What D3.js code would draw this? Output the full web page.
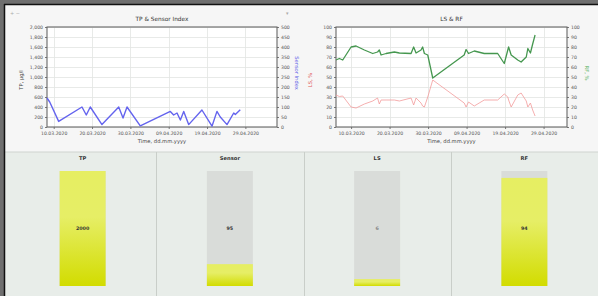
<!DOCTYPE html>
<html>
<head>
<meta charset="utf-8">
<script src="https://cdn.jsdelivr.net/npm/d3@7/dist/d3.min.js"></script>
<style>
  html, body { margin: 0; padding: 0; background: #6f6f6f; }
  svg { display: block; font-family: "DejaVu Sans", sans-serif; }
</style>
</head>
<body>
<svg id="chart" width="598" height="296"></svg>
<script>
// ---- left chart: TP & Sensor Index ----
const tpTicks = [0, 200, 400, 600, 800, 1000, 1200, 1400, 1600, 1800, 2000];
const sensorTicks = [0, 50, 100, 150, 200, 250, 300, 350, 400, 450, 500];
const leftDateTicks = ["2020-03-10", "2020-03-20", "2020-03-30", "2020-04-09", "2020-04-19", "2020-04-29"];
const sensorTimes = [
  "2020-03-08T06:00", "2020-03-08T23:00", "2020-03-11T07:00", "2020-03-17T09:00", "2020-03-18T12:00",
  "2020-03-19T13:00", "2020-03-22T14:00", "2020-03-26T23:00", "2020-03-28T02:00", "2020-03-29T03:00",
  "2020-04-01T14:00", "2020-04-09T10:00", "2020-04-10T07:00", "2020-04-11T04:00", "2020-04-12T01:00",
  "2020-04-12T22:00", "2020-04-14T05:00", "2020-04-17T16:00", "2020-04-20T07:00", "2020-04-21T14:00",
  "2020-04-22T11:00", "2020-04-24T05:00", "2020-04-25T23:00", "2020-04-26T09:00", "2020-04-27T16:00"
];
const sensorValues = [145, 125, 28, 100, 60, 100, 12, 100, 45, 100, 6, 78, 60, 70, 35, 78, 12, 85, 4, 78, 50, 12, 70, 62, 86];

// ---- right chart: LS & RF ----
const pctTicks = [0, 10, 20, 30, 40, 50, 60, 70, 80, 90, 100];
const rightDateTicks = ["2020-03-10", "2020-03-20", "2020-03-30", "2020-04-09", "2020-04-19", "2020-04-29"];
const lsrfTimes = [
  "2020-03-06T02:00", "2020-03-06T23:00", "2020-03-07T20:00", "2020-03-10T00:00", "2020-03-11T07:00",
  "2020-03-13T11:00", "2020-03-15T15:00", "2020-03-16T21:00", "2020-03-17T08:00", "2020-03-17T19:00",
  "2020-03-19T02:00", "2020-03-21T06:00", "2020-03-22T13:00", "2020-03-25T14:00", "2020-03-26T06:00",
  "2020-03-26T21:00", "2020-03-28T04:00", "2020-03-28T14:00", "2020-03-29T01:00", "2020-03-29T22:00",
  "2020-03-31T05:00", "2020-04-08T09:00", "2020-04-08T21:00", "2020-04-09T12:00", "2020-04-11T00:00",
  "2020-04-13T14:00", "2020-04-17T02:00", "2020-04-18T19:00", "2020-04-19T17:00", "2020-04-19T22:00",
  "2020-04-20T14:00", "2020-04-22T07:00", "2020-04-23T04:00", "2020-04-24T12:00", "2020-04-24T22:00",
  "2020-04-25T14:00", "2020-04-26T04:00", "2020-04-26T19:00"
];
const rfValues = [67, 68.5, 67, 80, 81, 77, 73.5, 75, 77, 72, 73.5, 75, 74, 73.5, 80, 74, 77, 80, 73.5, 72,
  49, 72, 77.5, 73.5, 76, 73.5, 73.5, 63.5, 77, 80, 72, 67, 65, 70, 78.5, 74, 83, 92];
const lsValues = [32, 30.5, 31, 20, 19, 23, 26, 29, 23, 27, 27, 27, 26, 29, 22, 29, 24, 21, 20, 30,
  47, 24, 20, 25, 21, 27, 27, 33, 30, 27, 20, 32, 34, 26, 20, 24, 17, 11];

// ---- gauges ----
const gaugeNames = ["TP", "Sensor", "LS", "RF"];
const gaugeValues = [2000, 95, 6, 94];
const gaugeMax = [2000, 500, 100, 100];

const parseT = d3.isoParse;
const svg = d3.select("#chart");

// frame + panels
svg.append("rect").attr("x", 5).attr("y", 5).attr("width", 593).attr("height", 147).attr("fill", "#f6f6f6");
svg.append("rect").attr("x", 5).attr("y", 152).attr("width", 593).attr("height", 144).attr("fill", "#e8ede9");
svg.append("line").attr("x1", 5).attr("x2", 598).attr("y1", 152).attr("y2", 152).attr("stroke", "#cfd4d0");
svg.append("line").attr("x1", 4).attr("x2", 598).attr("y1", 4.5).attr("y2", 4.5).attr("stroke", "#111").attr("stroke-width", 1.5);
svg.append("line").attr("x1", 4.5).attr("x2", 4.5).attr("y1", 4).attr("y2", 296).attr("stroke", "#111").attr("stroke-width", 1.5);

// small toolbar glyphs
svg.append("text").attr("x", 10).attr("y", 15).attr("font-size", 5).attr("fill", "#aaa").text("+  −");
svg.append("text").attr("x", 286).attr("y", 15).attr("font-size", 5).attr("fill", "#aaa").text("▾");

function drawChart(cfg) {
  const g = svg.append("g");
  const x = d3.scaleTime().domain(cfg.xDomain.map(parseT)).range([cfg.x0, cfg.x1]);
  const yL = d3.scaleLinear().domain([0, d3.max(cfg.leftTicks)]).range([cfg.y1, cfg.y0]);
  const yR = d3.scaleLinear().domain([0, d3.max(cfg.rightTicks)]).range([cfg.y1, cfg.y0]);

  g.append("rect").attr("x", cfg.x0).attr("y", cfg.y0)
    .attr("width", cfg.x1 - cfg.x0).attr("height", cfg.y1 - cfg.y0).attr("fill", "#fff");

  // grid
  g.selectAll(".hg").data(cfg.leftTicks).join("line")
    .attr("x1", cfg.x0).attr("x2", cfg.x1)
    .attr("y1", d => Math.round(yL(d)) + 0.5).attr("y2", d => Math.round(yL(d)) + 0.5)
    .attr("stroke", "#e2e4e2").attr("stroke-width", 0.8);
  const xt = cfg.xTicks.map(parseT);
  g.selectAll(".vg").data(xt).join("line")
    .attr("x1", d => Math.round(x(d)) + 0.5).attr("x2", d => Math.round(x(d)) + 0.5)
    .attr("y1", cfg.y0).attr("y2", cfg.y1)
    .attr("stroke", "#e2e4e2").attr("stroke-width", 0.8);

  // axes
  const fs = 4.6;
  const axL = g.append("g").attr("transform", `translate(${cfg.x0},0)`)
    .call(d3.axisLeft(yL).tickValues(cfg.leftTicks).tickSize(2).tickPadding(2).tickFormat(cfg.leftFmt || d3.format("d")));
  const axR = g.append("g").attr("transform", `translate(${cfg.x1},0)`)
    .call(d3.axisRight(yR).tickValues(cfg.rightTicks).tickSize(2).tickPadding(2).tickFormat(d3.format("d")));
  const axB = g.append("g").attr("transform", `translate(0,${cfg.y1})`)
    .call(d3.axisBottom(x).tickValues(xt).tickSize(2).tickPadding(3).tickFormat(d3.timeFormat("%d.%m.%Y")));
  [axL, axR, axB].forEach(a => {
    a.selectAll("text").attr("font-size", fs).attr("fill", "#555").attr("font-family", "DejaVu Sans");
    a.selectAll("line").attr("stroke", "#777");
    a.select(".domain").remove();
  });
  g.append("rect").attr("x", cfg.x0).attr("y", cfg.y0)
    .attr("width", cfg.x1 - cfg.x0).attr("height", cfg.y1 - cfg.y0)
    .attr("fill", "none").attr("stroke", "#666").attr("stroke-width", 1.1);

  // series
  cfg.series.forEach(s => {
    const ys = s.axis === "left" ? yL : yR;
    const pts = s.times.map((t, i) => [parseT(t), s.values[i]]);
    g.append("path").datum(pts)
      .attr("fill", "none").attr("stroke", s.color).attr("stroke-width", s.width)
      .attr("stroke-linejoin", "round")
      .attr("d", d3.line().x(d => x(d[0])).y(d => ys(d[1])));
  });

  // titles
  g.append("text").attr("x", (cfg.x0 + cfg.x1) / 2).attr("y", cfg.y0 - 6)
    .attr("text-anchor", "middle").attr("font-size", 5.8).attr("fill", "#333").text(cfg.title);
  g.append("text").attr("x", (cfg.x0 + cfg.x1) / 2).attr("y", cfg.y1 + 16)
    .attr("text-anchor", "middle").attr("font-size", 5.2).attr("fill", "#444").text("Time, dd.mm.yyyy");
  g.append("text").attr("transform", `translate(${cfg.x0 - 24},${(cfg.y0 + cfg.y1) / 2 + 3}) rotate(-90)`)
    .attr("text-anchor", "middle").attr("font-size", 5.2).attr("fill", cfg.leftTitleColor).text(cfg.leftTitle);
  g.append("text").attr("transform", `translate(${cfg.x1 + 18},${(cfg.y0 + cfg.y1) / 2 - 4}) rotate(90)`)
    .attr("text-anchor", "middle").attr("font-size", 5.2).attr("fill", cfg.rightTitleColor).text(cfg.rightTitle);
}

drawChart({
  x0: 47, x1: 277, y0: 27, y1: 127,
  xDomain: ["2020-03-08T06:00", "2020-05-07T06:00"],
  xTicks: leftDateTicks,
  leftTicks: tpTicks, rightTicks: sensorTicks,
  leftFmt: d3.format(","),
  title: "TP & Sensor Index",
  leftTitle: "TP, µg/l", leftTitleColor: "#444",
  rightTitle: "Sensor Index", rightTitleColor: "#5a5ae6",
  series: [{ times: sensorTimes, values: sensorValues, axis: "right", color: "#6464ee", width: 1.4 }]
});

drawChart({
  x0: 336, x1: 567, y0: 27, y1: 127,
  xDomain: ["2020-03-06T02:00", "2020-05-05T02:00"],
  xTicks: rightDateTicks,
  leftTicks: pctTicks, rightTicks: pctTicks,
  title: "LS & RF",
  leftTitle: "LS, %", leftTitleColor: "#e05555",
  rightTitle: "RF, %", rightTitleColor: "#55b060",
  series: [
    { times: lsrfTimes, values: lsValues, axis: "left", color: "#f29a9a", width: 0.8 },
    { times: lsrfTimes, values: rfValues, axis: "right", color: "#45974f", width: 1.3 }
  ]
});

// ---- gauges ----
const defs = svg.append("defs");
const grad = defs.append("linearGradient").attr("id", "fillGrad")
  .attr("x1", 0).attr("x2", 0).attr("y1", 0).attr("y2", 1);
grad.append("stop").attr("offset", "0%").attr("stop-color", "#e6ee62");
grad.append("stop").attr("offset", "40%").attr("stop-color", "#e6ee66");
grad.append("stop").attr("offset", "100%").attr("stop-color", "#d2dc00");

const col = d3.scaleBand().domain(gaugeNames).range([9, 598]);
const barW = 46, barTop = 171, barBot = 286;

gaugeNames.forEach((name, i) => {
  const cx = col(name) + col.bandwidth() / 2;
  if (i > 0) {
    svg.append("line").attr("x1", Math.round(col(name)) + 0.5).attr("x2", Math.round(col(name)) + 0.5)
      .attr("y1", 152).attr("y2", 296).attr("stroke", "#c9cec9");
  }
  svg.append("text").attr("x", cx).attr("y", 160).attr("text-anchor", "middle")
    .attr("font-size", 5.2).attr("font-weight", "bold").attr("fill", "#333").text(name);
  const h = d3.scaleLinear().domain([0, gaugeMax[i]]).range([0, barBot - barTop]).clamp(true);
  svg.append("rect").attr("x", cx - barW / 2).attr("y", barTop).attr("width", barW)
    .attr("height", barBot - barTop).attr("fill", "#d9dcd9");
  const fh = h(gaugeValues[i]);
  svg.append("rect").attr("x", cx - barW / 2).attr("y", barBot - fh).attr("width", barW)
    .attr("height", fh).attr("fill", "url(#fillGrad)");
  svg.append("text").attr("x", cx).attr("y", (barTop + barBot) / 2 + 1.5).attr("text-anchor", "middle")
    .attr("font-size", 4.8).attr("font-weight", "bold").attr("fill", i === 2 ? "#888" : "#333").text(gaugeValues[i]);
});
</script>
</body>
</html>
